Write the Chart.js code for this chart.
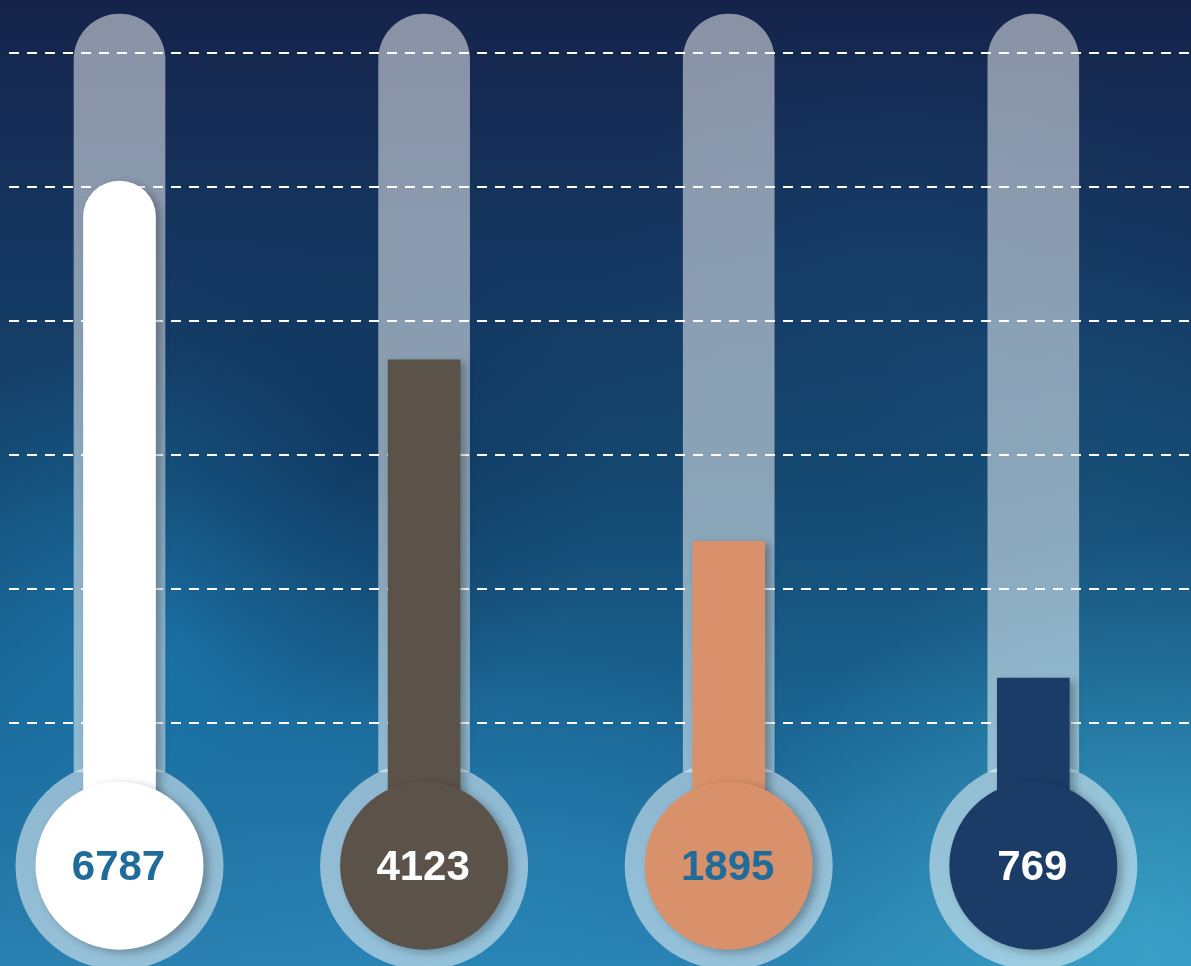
<!DOCTYPE html>
<html><head><meta charset="utf-8">
<script src="https://cdn.jsdelivr.net/npm/chart.js@4.4.1/dist/chart.umd.min.js"></script>
<style>html,body{margin:0;padding:0;background:#14264b;overflow:hidden}canvas{display:block}</style>
</head><body>
<canvas id="c" width="1191" height="966"></canvas>
<script>
// ---- data ----
const categories = ['A', 'B', 'C', 'D'];
const values = [6787, 4123, 1895, 769];          // numbers shown in the bulbs
const fillLevels = [80.9, 54.2, 27.1, 6.7];      // thermometer fill level (gauge %)
const gridTicks = [0, 20, 40, 60, 80, 100];      // dashed grid levels
const trackTop = 105.8;                          // top of the glass tube

// ---- styles / layout ----
const fillColors = ['#ffffff', '#5b524a', '#d8916a', '#1a3c66'];
const labelColors = ['#1f6b99', '#ffffff', '#1f6b99', '#ffffff'];
const BULB_Y = -21.3, TRACK_BASE = -7.3;
const xs = categories.map((_, i) => i);

const bgPlugin = {
  id: 'bg',
  beforeDraw(chart) {
    const ctx = chart.ctx, w = chart.width, h = chart.height;
    ctx.save();
    const g = ctx.createLinearGradient(0, 0, 0, h);
    g.addColorStop(0, '#15234a');
    g.addColorStop(0.25, '#153660');
    g.addColorStop(0.5, '#14476f');
    g.addColorStop(0.75, '#1a6593');
    g.addColorStop(1, '#2a82b2');
    ctx.fillStyle = g; ctx.fillRect(0, 0, w, h);
    const spots = [
      [150, 640, 300, 'rgba(30,140,200,0.45)'],
      [1150, 950, 420, 'rgba(70,185,215,0.55)'],
      [500, 900, 300, 'rgba(40,140,195,0.35)'],
      [350, 470, 260, 'rgba(10,35,75,0.35)'],
      [900, 300, 300, 'rgba(25,80,125,0.25)'],
      [1100, 500, 250, 'rgba(30,100,140,0.25)']
    ];
    for (const [x, y, r, c] of spots) {
      const rg = ctx.createRadialGradient(x, y, 0, x, y, r);
      rg.addColorStop(0, c);
      rg.addColorStop(1, c.replace(/[\d.]+\)$/, '0)'));
      ctx.fillStyle = rg; ctx.fillRect(0, 0, w, h);
    }
    ctx.restore();
  }
};

const shadowPlugin = {
  id: 'shadow',
  beforeDatasetDraw(chart, args) {
    const ds = chart.data.datasets[args.index];
    if (ds.shadow) {
      const ctx = chart.ctx;
      ctx.save();
      ctx.shadowColor = 'rgba(0,0,0,0.28)';
      ctx.shadowBlur = 8;
      ctx.shadowOffsetX = 5;
      ctx.shadowOffsetY = 3;
    }
  },
  afterDatasetDraw(chart, args) {
    if (chart.data.datasets[args.index].shadow) chart.ctx.restore();
  }
};

const labelPlugin = {
  id: 'labels',
  afterDatasetsDraw(chart) {
    const meta = chart.getDatasetMeta(3);
    const ctx = chart.ctx;
    ctx.save();
    ctx.font = 'bold 42px "Liberation Sans", Arial, sans-serif';
    ctx.textAlign = 'center';
    ctx.textBaseline = 'middle';
    meta.data.forEach((el, i) => {
      ctx.fillStyle = labelColors[i];
      ctx.fillText(String(values[i]), el.x - 1, el.y + 3);
    });
    ctx.restore();
  }
};

new Chart(document.getElementById('c'), {
  data: {
    datasets: [
      {
        type: 'bar', label: 'tube', order: 4, clip: false,
        data: xs.map(x => ({ x, y: [TRACK_BASE, trackTop] })),
        backgroundColor: 'rgba(255,255,255,0.5)',
        barThickness: 91, grouped: false,
        borderSkipped: 'start',
        borderRadius: { topLeft: 46, topRight: 46, bottomLeft: 0, bottomRight: 0 }
      },
      {
        type: 'bubble', label: 'ring', order: 3, clip: false,
        data: xs.map(x => ({ x, y: BULB_Y, r: 104 })),
        backgroundColor: 'rgba(255,255,255,0.5)', borderWidth: 0
      },
      {
        type: 'bar', label: 'fill', order: 2, shadow: true, clip: false,
        data: xs.map((x, i) => ({ x, y: [BULB_Y, fillLevels[i]] })),
        backgroundColor: fillColors,
        barThickness: 72, grouped: false,
        borderSkipped: 'start',
        borderRadius: c => c.dataIndex === 0 ? { topLeft: 36, topRight: 36, bottomLeft: 0, bottomRight: 0 } : 0
      },
      {
        type: 'bubble', label: 'bulb', order: 1, shadow: true, clip: false,
        data: xs.map(x => ({ x, y: BULB_Y, r: 84 })),
        backgroundColor: fillColors, borderWidth: 0
      }
    ]
  },
  options: {
    responsive: false,
    animation: false,
    events: [],
    layout: { autoPadding: false, padding: { left: 9, right: 0, top: 0, bottom: 0 } },
    plugins: { legend: { display: false }, tooltip: { enabled: false } },
    scales: {
      x: {
        type: 'linear', min: -0.3628, max: 3.5177,
        offset: false,
        grid: { offset: false },
        display: false
      },
      y: {
        type: 'linear', min: -36.27, max: 107.91,
        afterBuildTicks: s => { s.ticks = gridTicks.map(v => ({ value: v })); },
        ticks: { display: false },
        border: { display: false, dash: [10, 8] },
        grid: { color: '#ffffff', lineWidth: 2, drawTicks: false, tickLength: 0 }
      }
    }
  },
  plugins: [bgPlugin, shadowPlugin, labelPlugin]
});
</script>
</body></html>
